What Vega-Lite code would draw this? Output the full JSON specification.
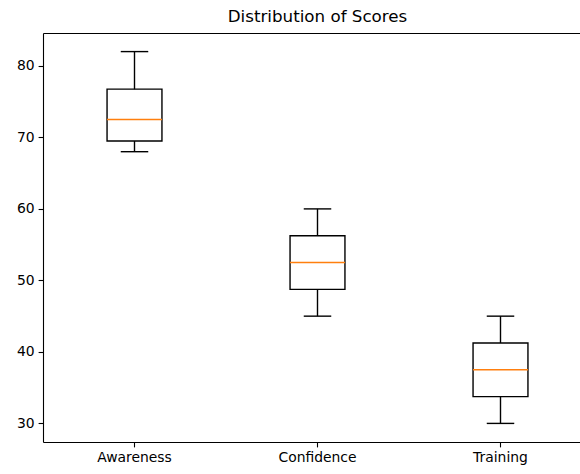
{
  "$schema": "https://vega.github.io/schema/vega-lite/v6.json",
  "autosize": "none",
  "padding": {"left": 43, "top": 33, "right": 0, "bottom": 32},
  "width": 537,
  "height": 409,
  "background": "white",
  "title": {"text": "Distribution of Scores", "font": "DejaVu Sans", "fontSize": 16.7, "fontWeight": "normal", "color": "#000", "anchor": "middle", "dx": 6, "offset": 7},
  "config": {
    "view": {"stroke": null},
    "axis": {"labelFont": "DejaVu Sans", "labelFontSize": 13.9, "labelColor": "#000", "domainColor": "#000", "tickColor": "#000", "domainWidth": 1.1, "tickWidth": 1.1, "tickSize": 4.9, "labelPadding": 4, "grid": false, "title": null}
  },
  "data": {"values": [
    {"category": "Awareness", "min": 68, "q1": 69.5, "median": 72.5, "q3": 76.75, "max": 82},
    {"category": "Confidence", "min": 45, "q1": 48.75, "median": 52.5, "q3": 56.25, "max": 60},
    {"category": "Training", "min": 30, "q1": 33.75, "median": 37.5, "q3": 41.25, "max": 45}
  ]},
  "layer": [
    {
      "mark": {"type": "rule", "color": "#000", "strokeWidth": 1.4},
      "encoding": {
        "x": {"field": "category", "type": "nominal", "sort": ["Awareness", "Confidence", "Training"],
              "scale": {"type": "band", "range": [0, 549], "paddingInner": 0, "paddingOuter": 0},
              "axis": {"orient": "bottom", "labelAngle": 0}},
        "y": {"field": "min", "type": "quantitative", "scale": {"domain": [27.4, 84.6], "nice": false, "zero": false},
              "axis": {"values": [30, 40, 50, 60, 70, 80]}},
        "y2": {"field": "max"}
      }
    },
    {
      "mark": {"type": "bar", "fill": "white", "stroke": "#000", "strokeWidth": 1.4, "width": {"band": 0.3}},
      "encoding": {
        "x": {"field": "category", "type": "nominal", "sort": ["Awareness", "Confidence", "Training"], "axis": null},
        "y": {"field": "q1", "type": "quantitative"},
        "y2": {"field": "q3"}
      }
    },
    {
      "mark": {"type": "tick", "color": "#000", "size": 27.5, "thickness": 1.4, "opacity": 1},
      "encoding": {
        "x": {"field": "category", "type": "nominal", "sort": ["Awareness", "Confidence", "Training"], "axis": null},
        "y": {"field": "min", "type": "quantitative"}
      }
    },
    {
      "mark": {"type": "tick", "color": "#000", "size": 27.5, "thickness": 1.4, "opacity": 1},
      "encoding": {
        "x": {"field": "category", "type": "nominal", "sort": ["Awareness", "Confidence", "Training"], "axis": null},
        "y": {"field": "max", "type": "quantitative"}
      }
    },
    {
      "mark": {"type": "tick", "color": "#ff7f0e", "size": 55, "thickness": 1.4, "opacity": 1},
      "encoding": {
        "x": {"field": "category", "type": "nominal", "sort": ["Awareness", "Confidence", "Training"], "axis": null},
        "y": {"field": "median", "type": "quantitative"}
      }
    },
    {
      "mark": {"type": "rule", "color": "#000", "strokeWidth": 1.1, "opacity": 0},
      "encoding": {
        "x": {"field": "category", "type": "nominal", "sort": ["Awareness", "Confidence", "Training"],
              "axis": {"orient": "top", "labels": false, "labelOpacity": 0, "ticks": false, "domain": true, "labelAngle": 0}},
        "y": {"field": "max", "type": "quantitative"}
      }
    }
  ],
  "resolve": {"axis": {"x": "independent"}}
}
